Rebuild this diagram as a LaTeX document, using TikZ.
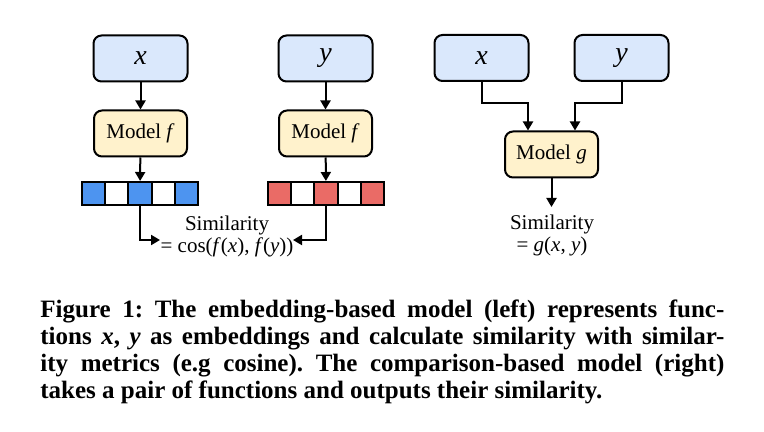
\documentclass[tikz,border=0pt]{standalone}
\usepackage{fontspec}
\setmainfont{Liberation Serif}
\usetikzlibrary{arrows.meta}
\definecolor{inblue}{HTML}{DAE8FC}
\definecolor{modyellow}{HTML}{FFF2CC}
\definecolor{cellblue}{HTML}{4D94F0}
\definecolor{cellred}{HTML}{EA6B66}
\tikzset{
  inbox/.style={draw, line width=1pt, rounded corners=4pt, fill=inblue,
    minimum width=47pt, minimum height=23pt, font=\fontsize{14}{16}\selectfont\itshape},
  modbox/.style={draw, line width=1pt, rounded corners=4pt, fill=modyellow,
    minimum width=46.5pt, minimum height=23pt, font=\fontsize{10.5}{12}\selectfont},
  cell/.style={draw, line width=1pt, minimum width=11.65pt, minimum height=11.5pt,
    inner sep=0pt},
  arr/.style={line width=1pt, -{Triangle[length=4.5pt,width=5pt]}},
  simtext/.style={align=center, font=\fontsize{10.5}{11}\selectfont}
}
\begin{document}
\begin{tikzpicture}[x=0.5pt,y=-0.5pt]
        \path[use as bounding box] (0,0) rectangle (764,432);
        % embedding-based model
        \node[inbox] at (140.5,58.5) (lx) {x};
        \node[modbox] at (140.5,133.5) (lf) {Model \textit{f}};
        \node[inbox] at (325.5,58.5) (ly) {y};
        \node[modbox] at (325.5,133.5) (rf) {Model \textit{f}};
        \foreach \i/\c in {1/cellblue,2/white,3/cellblue,4/white,5/cellblue}
          \node[cell,fill=\c] at (70.1+23.3*\i,193.5) (ea\i) {};
        \foreach \i/\c in {1/cellred,2/white,3/cellred,4/white,5/cellred}
          \node[cell,fill=\c] at (256.1+23.3*\i,193.5) (eb\i) {};
        \node[simtext] at (227,236) (sim) {Similarity\\= cos(\textit{f}(\textit{x}), \textit{f}(\textit{y}))};
        \coordinate (ta) at (160,240);
        \coordinate (tb) at (293,240);
        \path[draw,arr] (lx) -- (lf);
        \path[draw,arr] (lf) -- (ea3);
        \path[draw,arr] (ly) -- (rf);
        \path[draw,arr] (rf) -- (eb3);
        \path[draw,arr] (ea3.south) |- (ta);
        \path[draw,arr] (eb3.south) |- (tb);
        % comparison-based model
        \node[inbox] at (481.5,58) (cx) {x};
        \node[inbox] at (621.5,58) (cy) {y};
        \node[modbox] at (551.5,154.5) (mg) {Model \textit{g}};
        \node[simtext] at (552,235) (simg) {Similarity\\= \textit{g}(\textit{x}, \textit{y})};
        \coordinate (kx) at (528,103);
        \coordinate (ky) at (575,103);
        \coordinate (tg) at (551.5,207);
        \path[draw,arr] (cx.south) |- (kx) -- (kx |- mg.north);
        \path[draw,arr] (cy.south) |- (ky) -- (ky |- mg.north);
        \path[draw,arr] (mg) -- (tg);
        % caption
        \node[anchor=north west, inner sep=0pt, text width=342pt, align=justify,
          font=\bfseries\fontsize{12.5}{13.5}\selectfont\frenchspacing] at (40,299) (cap)
          {Figure 1: The embedding-based model (left) represents func-\linebreak
           tions \textit{x}, \textit{y} as embeddings and calculate similarity with similar-\linebreak
           ity metrics (e.g cosine). The comparison-based model (right)\linebreak
           takes a pair of functions and outputs their similarity.};
\end{tikzpicture}
\end{document}
